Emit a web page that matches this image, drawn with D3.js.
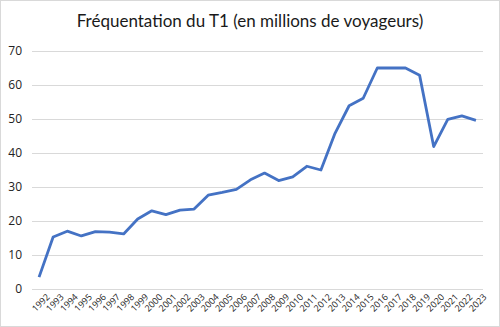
<!DOCTYPE html>
<html><head><meta charset="utf-8">
<script src="https://cdn.jsdelivr.net/npm/d3@7"></script>
<style>body{margin:0;background:#fff}svg{display:block}</style>
</head><body>
<script>
const years = d3.range(1992, 2024).map(String);
const voyageurs = [3.5,15.3,17,15.6,16.9,16.7,16.2,20.6,23,21.9,23.2,23.5,27.6,28.4,29.3,32.1,34.1,31.9,33,36.1,35,45.8,53.9,56.1,65,65,65,62.9,41.9,49.9,50.9,49.6];
const yTicks = [0,10,20,30,40,50,60,70];
const title = "Fréquentation du T1 (en millions de voyageurs)";

const W = 500, H = 327;
const m = {left: 32, right: 17, top: 51, bottom: 38};
const svg = d3.select("body").append("svg").attr("width", W).attr("height", H);
svg.append("rect").attr("x",0.5).attr("y",0.5).attr("width",W-1).attr("height",H-1)
  .attr("fill","#fff").attr("stroke","#d9d9d9");

const x = d3.scaleBand().domain(years).range([m.left, W - m.right]);
const y = d3.scaleLinear().domain([0,70]).range([H - m.bottom, m.top]);

svg.append("text").attr("x", 250).attr("y", 27).attr("text-anchor","middle")
  .attr("font-family","Lato, 'Open Sans', sans-serif").attr("font-size", 17).attr("fill","#1a1a1a").text(title);

const ya = svg.append("g").attr("transform",`translate(${m.left},0)`)
  .call(d3.axisLeft(y).tickValues(yTicks).tickSize(-(W - m.left - m.right)).tickPadding(10));
ya.select(".domain").remove();
ya.selectAll("line").attr("stroke","#d9d9d9");
ya.selectAll("text").attr("font-family","'Open Sans', sans-serif").attr("font-size",12).attr("fill","#222");

const xa = svg.append("g").attr("transform",`translate(0,${H - m.bottom})`)
  .call(d3.axisBottom(x).tickSize(0).tickPadding(6));
xa.select(".domain").remove();
xa.selectAll("text").attr("font-family","'Open Sans', sans-serif").attr("font-size",9).attr("fill","#222")
  .attr("text-anchor","end").attr("dx","0.2em").attr("dy","0.9em").attr("transform","rotate(-45)");

const line = d3.line().x((d,i) => x(years[i]) + x.bandwidth()/2).y(d => y(d));
svg.append("path").datum(voyageurs).attr("d", line).attr("fill","none")
  .attr("stroke","#4472C4").attr("stroke-width",2.8).attr("stroke-linejoin","round");
</script>
</body></html>
